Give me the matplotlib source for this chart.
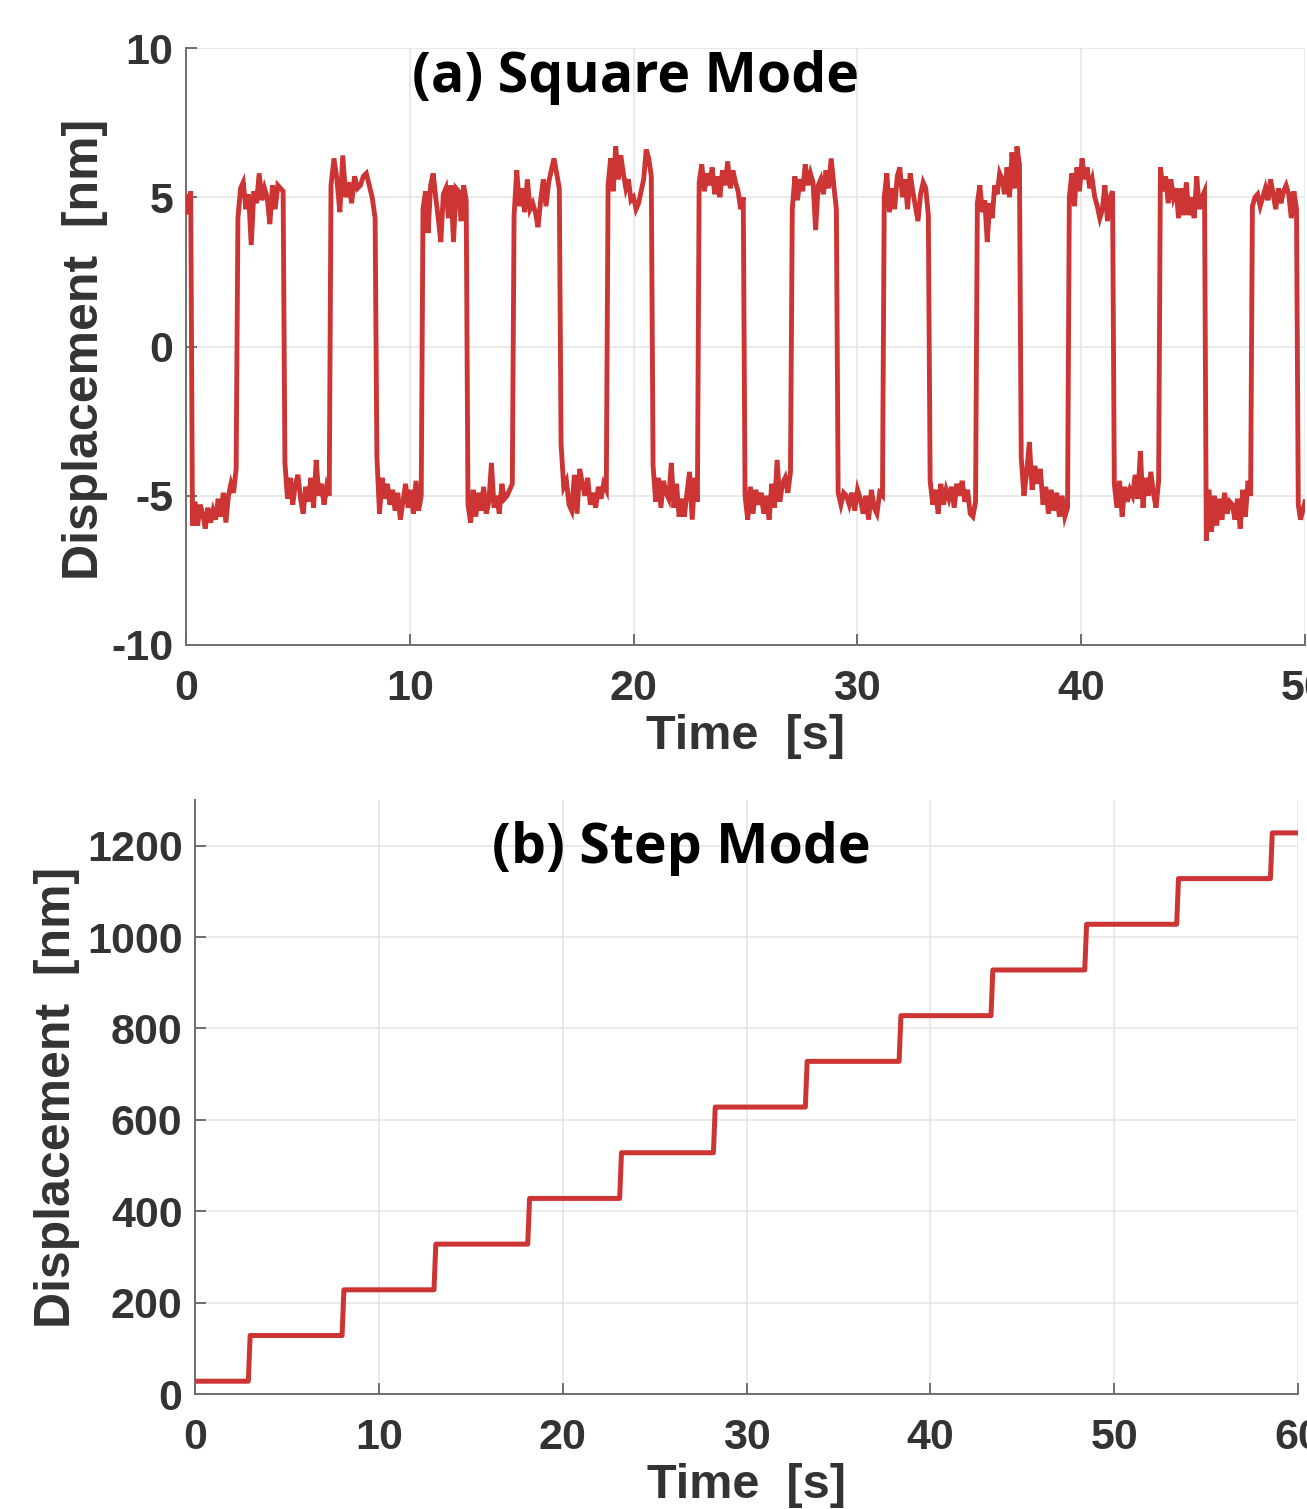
import matplotlib
matplotlib.use('Agg')
import matplotlib.pyplot as plt
import numpy as np

plt.rcParams['axes.unicode_minus'] = False

# ---------------- data: (a) square mode ----------------
sq_edges = [0.25, 2.28, 4.38, 6.44, 8.49, 10.55, 12.56, 14.62, 16.72, 18.82,
            20.83, 22.89, 24.94, 27.05, 29.10, 31.16, 33.21, 35.32, 37.28,
            39.43, 41.44, 43.50, 45.55, 47.61, 49.66]

p00 = [4.5, 5.1, 4.8, 5.2]
p01 = [-6.0, -5.2, -6.0, -5.3, -5.6, -6.1, -5.4, -5.9, -5.5, -5.8, -5.1, -5.7, -4.9, -5.9, -5.0, -4.6, -4.9, -4.1]
p02 = [4.3, 5.3, 5.5, 4.6, 5.1, 3.4, 5.2, 4.8, 5.8, 4.9, 5.3, 5.0, 4.1, 5.4, 4.6, 5.4, 5.3, 5.2]
p03 = [-3.9, -5.1, -4.4, -5.3, -4.6, -4.3, -5.1, -5.6, -4.7, -5.2, -4.4, -5.4, -3.8, -5.0, -4.6, -5.3, -4.7, -5.0]
p04 = [5.4, 6.3, 5.6, 4.5, 6.4, 5.0, 5.5, 4.8, 5.7, 5.3, 5.4, 5.7, 5.8, 5.4, 5.0, 4.3]
p05 = [-3.7, -5.6, -4.4, -5.1, -4.6, -5.3, -4.8, -5.5, -4.9, -5.8, -5.2, -4.6, -5.4, -4.8, -5.6, -4.5, -5.5, -5.0]
p06 = [4.6, 5.2, 3.8, 5.4, 5.8, 5.0, 4.3, 3.5, 5.1, 5.3, 4.3, 5.4, 3.5, 5.3, 5.2, 4.2, 5.4, 4.9]
p07 = [-5.3, -5.9, -4.8, -5.7, -4.9, -5.5, -4.7, -5.6, -5.2, -3.9, -5.4, -5.0, -5.6, -4.6, -5.1, -5.0, -4.8, -4.6]
p08 = [4.4, 5.9, 4.7, 5.3, 4.5, 5.6, 4.6, 4.8, 4.5, 4.0, 4.9, 5.6, 4.7, 5.5, 5.9, 6.3, 5.8, 5.3]
p09 = [-3.3, -4.7, -4.5, -5.3, -5.5, -4.3, -5.6, -4.1, -4.6, -5.0, -4.4, -5.3, -4.9, -5.4, -4.7, -5.1, -4.6, -4.8]
p10 = [5.4, 6.3, 5.2, 6.7, 5.6, 6.4, 5.8, 5.3, 5.6, 4.9, 5.0, 4.6, 4.8, 5.2, 5.6, 6.6, 6.3, 5.7]
p11 = [-4.0, -5.2, -4.4, -5.4, -4.5, -4.9, -5.1, -3.9, -5.4, -4.6, -5.7, -5.1, -5.7, -4.9, -4.2, -5.8, -4.4, -5.2]
p12 = [5.5, 6.1, 5.2, 5.8, 5.4, 6.0, 5.1, 5.7, 5.0, 5.9, 5.4, 6.2, 5.3, 5.9, 5.5, 5.2, 4.6, 5.0]
p13 = [-5.0, -5.8, -4.7, -5.6, -4.8, -5.3, -4.9, -5.6, -5.0, -5.8, -4.6, -5.4, -3.8, -5.2, -4.6, -4.4, -4.9, -4.2]
p14 = [4.6, 5.7, 4.9, 5.6, 5.2, 6.1, 5.4, 5.8, 5.5, 3.9, 5.4, 5.6, 5.1, 5.9, 5.3, 6.3, 5.4, 4.6]
p15 = [-4.9, -5.3, -4.9, -5.0, -5.3, -4.9, -5.5, -4.8, -5.1, -5.6, -5.0, -5.8, -4.8, -5.4, -5.6, -4.9, -5.0]
p16 = [5.0, 5.8, 4.5, 5.3, 4.6, 5.7, 6.0, 5.0, 5.6, 4.6, 5.8, 5.2, 4.7, 4.2, 5.1, 5.5, 5.3, 4.4]
p17 = [-4.5, -5.3, -4.8, -5.6, -4.6, -5.3, -4.8, -5.1, -4.7, -5.4, -4.6, -5.0, -4.5, -5.2, -4.8, -5.6, -5.7, -5.2]
p18 = [4.8, 5.4, 4.5, 4.9, 3.5, 4.8, 4.3, 5.4, 5.1, 5.8, 5.6, 5.1, 6.0, 5.0, 6.5, 5.3, 6.7, 6.1]
p19 = [-3.7, -5.0, -4.2, -3.2, -4.8, -4.0, -4.6, -4.1, -5.3, -4.7, -5.6, -4.8, -5.5, -4.9, -5.7, -5.0, -5.7, -5.4]
p20 = [5.0, 5.8, 4.7, 6.0, 5.2, 6.3, 5.6, 6.0, 5.3, 5.6, 5.0, 4.7, 4.3, 4.6, 5.4, 4.2, 5.0, 5.2]
p21 = [-4.6, -5.4, -4.5, -5.7, -4.7, -5.2, -4.8, -5.0, -4.3, -5.1, -3.5, -5.4, -4.4, -5.0, -4.2, -4.9, -5.4, -4.5]
p22 = [6.0, 5.2, 5.7, 4.8, 5.6, 5.0, 5.3, 4.3, 5.3, 4.4, 5.5, 4.4, 5.0, 4.3, 5.7, 4.6, 5.0, 5.2]
p23 = [-6.5, -4.8, -6.2, -5.0, -6.0, -5.1, -5.8, -4.9, -5.6, -5.2, -5.3, -5.8, -5.1, -6.1, -4.8, -5.7, -4.5, -5.0]
p24 = [4.7, 5.0, 5.1, 4.7, 5.0, 5.3, 4.9, 5.6, 5.1, 4.6, 5.3, 4.8, 5.2, 5.4, 5.1, 4.3, 5.2, 4.6]
p25 = [-5.3, -5.8, -5.5, -5.2]

sq_plateaus = [p00, p01, p02, p03, p04, p05, p06, p07, p08, p09, p10, p11, p12,
               p13, p14, p15, p16, p17, p18, p19, p20, p21, p22, p23, p24, p25]

sq_xticks = [0, 10, 20, 30, 40, 50]
sq_yticks = [-10, -5, 0, 5, 10]

# ---------------- data: (b) step mode ----------------
step_times = [2.9, 8.0, 13.0, 18.1, 23.1, 28.2, 33.2, 38.3, 43.3, 48.4, 53.4, 58.5]
step_levels = [28, 128, 228, 328, 428, 528, 628, 728, 828, 928, 1028, 1128, 1228]
st_xticks = [0, 10, 20, 30, 40, 50, 60]
st_yticks = [0, 200, 400, 600, 800, 1000, 1200]

# ---------------- build traces ----------------
bounds = [0.0] + sq_edges + [50.0]
sq_t, sq_y = [], []
for i, vals in enumerate(sq_plateaus):
    a = bounds[i] + (0.0 if i == 0 else 0.04)
    b = bounds[i + 1] - (0.0 if i == len(sq_plateaus) - 1 else 0.04)
    sq_t.extend(np.linspace(a, b, len(vals)))
    sq_y.extend(vals)

st_t, st_y = [0.0], [step_levels[0]]
for k, ts in enumerate(step_times):
    st_t += [ts, ts + 0.1]
    st_y += [step_levels[k], step_levels[k + 1]]
st_t.append(60.0)
st_y.append(step_levels[-1])

# ---------------- styling ----------------
RED = '#CD3434'
TXT = '#333333'
SPINE = '#6e6e6e'
GRID = '#e4e4e4'
TICKFONT = dict(family='Liberation Sans', weight='bold', size=31)
LABELFONT = dict(family='Liberation Sans', weight='bold')

fig = plt.figure(figsize=(13.07, 15.09), dpi=100)
fig.patch.set_facecolor('white')

W, H = 1307.0, 1509.0
ax1 = fig.add_axes([186 / W, 1 - 645 / H, 1119 / W, 597 / H])
ax2 = fig.add_axes([195 / W, 1 - 1394 / H, 1103 / W, 594 / H])


def style(ax, xticks, yticks, xlim, ylim):
    ax.set_xlim(*xlim)
    ax.set_ylim(*ylim)
    ax.set_xticks(xticks)
    ax.set_yticks(yticks)
    ax.grid(True, color=GRID, linewidth=1.1, zorder=0)
    ax.set_axisbelow(True)
    for s in ('top', 'right'):
        ax.spines[s].set_visible(False)
    for s in ('left', 'bottom'):
        ax.spines[s].set_color(SPINE)
        ax.spines[s].set_linewidth(1.4)
    ax.tick_params(axis='both', direction='in', length=8, width=1.4,
                   color=SPINE, labelcolor=TXT)
    ax.tick_params(axis='x', pad=17)
    ax.tick_params(axis='y', pad=9)
    for lab in ax.get_xticklabels() + ax.get_yticklabels():
        lab.set_fontproperties(matplotlib.font_manager.FontProperties(**TICKFONT))


# ---- (a) square mode ----
ax1.plot(sq_t, sq_y, color=RED, linewidth=3.5, solid_joinstyle='miter', zorder=3)
style(ax1, sq_xticks, sq_yticks, (0, 50), (-10, 10))
ax1.set_xlabel('Time  [s]', fontsize=35, color=TXT, labelpad=4, **LABELFONT)
ax1.set_ylabel('Displacement  [nm]', fontsize=36, color=TXT, **LABELFONT)
ax1.yaxis.set_label_coords(-0.070, 0.495)
ax1.text(20.1, 8.54, '(a) Square Mode', family='Open Sans', weight='bold',
         fontsize=40, color='black', ha='center', va='baseline', zorder=5)

# ---- (b) step mode ----
ax2.plot(st_t, st_y, color=RED, linewidth=3.6, zorder=3)
style(ax2, st_xticks, st_yticks, (0, 60), (0, 1300))
ax2.set_xlabel('Time  [s]', fontsize=35, color=TXT, labelpad=4, **LABELFONT)
ax2.set_ylabel('Displacement  [nm]', fontsize=36, color=TXT, **LABELFONT)
ax2.yaxis.set_label_coords(-0.104, 0.5)
ax2.text(26.44, 1162, '(b) Step Mode', family='Open Sans', weight='bold',
         fontsize=40, color='black', ha='center', va='baseline', zorder=5)

fig.savefig('out.png', dpi=100, facecolor='white')
